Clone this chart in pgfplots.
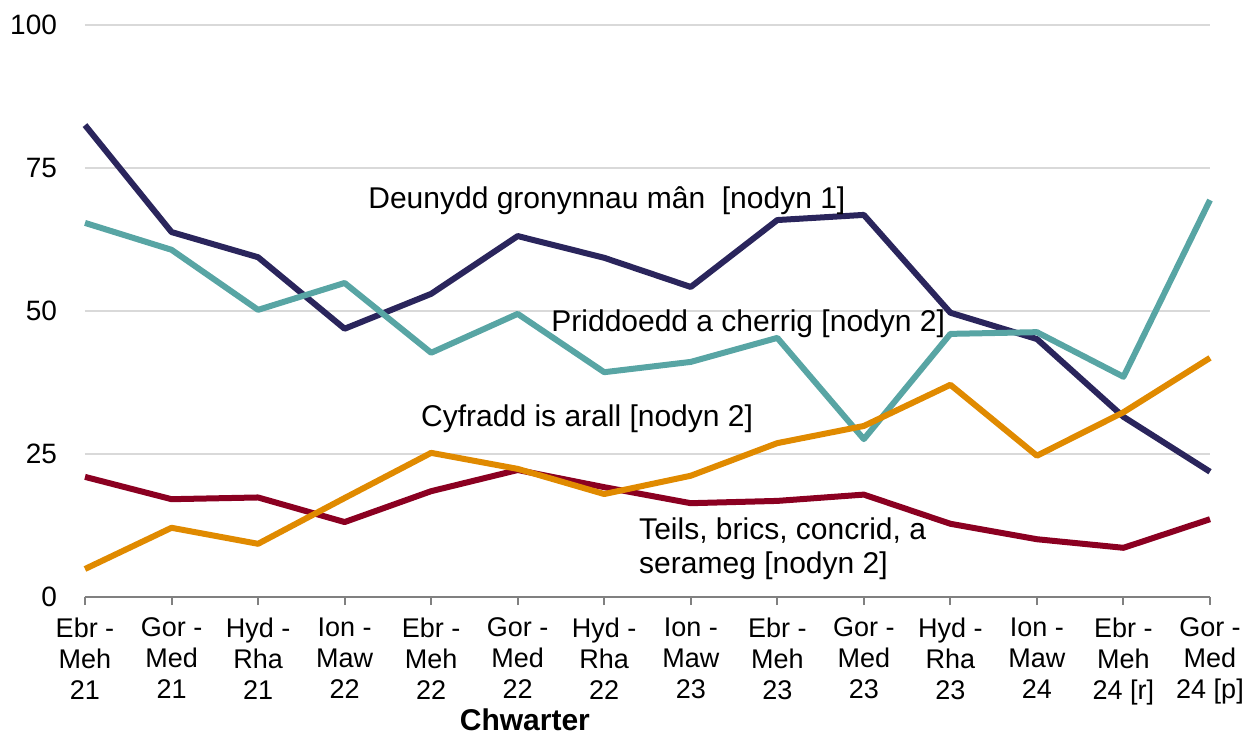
\documentclass[border=0pt]{standalone}
\usepackage{fontspec}
\setmainfont{Liberation Sans}
\usepackage{pgfplots}
\pgfplotsset{compat=1.18}
\definecolor{cnavy}{HTML}{2A255C}
\definecolor{cteal}{HTML}{58A5A4}
\definecolor{corange}{HTML}{E08A00}
\definecolor{cred}{HTML}{8B0021}
\definecolor{cgrid}{HTML}{D9D9D9}
\definecolor{caxis}{HTML}{808080}
\begin{document}
\begin{tikzpicture}
\begin{axis}[
  name=ax,
  width=562.5pt, height=286pt, scale only axis,
  xmin=0, xmax=13, ymin=0, ymax=100,
  axis lines*=left,
  axis line style={-},
  y axis line style={draw=none},
  x axis line style={draw=caxis, line width=1pt},
  ytick={0,25,50,75,100},
  ytick style={draw=none},
  ymajorgrids, grid style={draw=cgrid, line width=1pt},
  xtick={0,...,13},
  xtick style={draw=caxis, line width=1pt},
  tick align=outside, major tick length=4pt,
  xticklabels={{Ebr -\\Meh\\21},{Gor -\\Med\\21},{Hyd -\\Rha\\21},{Ion -\\Maw\\22},{Ebr -\\Meh\\22},{Gor -\\Med\\22},{Hyd -\\Rha\\22},{Ion -\\Maw\\23},{Ebr -\\Meh\\23},{Gor -\\Med\\23},{Hyd -\\Rha\\23},{Ion -\\Maw\\24},{Ebr -\\Meh\\24 [r]},{Gor -\\Med\\24 [p]}},
  xticklabel style={font=\fontsize{13.5}{15.5}\selectfont, align=center, yshift=-3pt},
  yticklabel style={font=\fontsize{14}{16}\selectfont, xshift=-6.5pt},
  /pgf/number format/assume math mode=true,
  clip=false,
  every axis plot/.append style={line width=3pt, mark=none, line join=round},
]
\addplot[cnavy] coordinates {(0,82.5)(1,63.8)(2,59.4)(3,46.9)(4,53.0)(5,63.1)(6,59.3)(7,54.2)(8,65.9)(9,66.8)(10,49.7)(11,45.1)(12,31.5)(13,21.9)};
\addplot[cteal] coordinates {(0,65.4)(1,60.7)(2,50.2)(3,54.9)(4,42.7)(5,49.5)(6,39.3)(7,41.1)(8,45.3)(9,27.6)(10,46.0)(11,46.3)(12,38.5)(13,69.4)};
\addplot[cred] coordinates {(0,21.0)(1,17.1)(2,17.4)(3,13.1)(4,18.5)(5,22.2)(6,19.2)(7,16.4)(8,16.8)(9,17.9)(10,12.8)(11,10.1)(12,8.6)(13,13.6)};
\addplot[corange] coordinates {(0,4.9)(1,12.1)(2,9.3)(3,17.3)(4,25.2)(5,22.4)(6,18.0)(7,21.2)(8,26.9)(9,29.9)(10,37.1)(11,24.7)(12,32.3)(13,41.8)};
\node[anchor=west, inner sep=0pt, font=\fontsize{15}{18}\selectfont] at (axis cs:3.27,69.2) {Deunydd gronynnau mân\ \ [nodyn 1]};
\node[anchor=west, inner sep=0pt, font=\fontsize{15}{18}\selectfont] at (axis cs:5.385,47.7) {Priddoedd a cherrig [nodyn 2]};
\node[anchor=west, inner sep=0pt, font=\fontsize{15}{18}\selectfont] at (axis cs:3.88,31.1) {Cyfradd is arall [nodyn 2]};
\node[anchor=west, inner sep=0pt, align=left, font=\fontsize{15}{17}\selectfont] at (axis cs:6.40,8.4) {Teils, brics, concrid, a\\serameg [nodyn 2]};
\node[anchor=center, inner sep=0pt, font=\bfseries\fontsize{15}{18}\selectfont] at (rel axis cs:0.391,0) [yshift=-61.5pt] {Chwarter};
\end{axis}
\pgfresetboundingbox
\path[use as bounding box] ([xshift=-42.5pt,yshift=-69pt]ax.south west) rectangle ([xshift=17pt,yshift=12.5pt]ax.north east);
\end{tikzpicture}
\end{document}
